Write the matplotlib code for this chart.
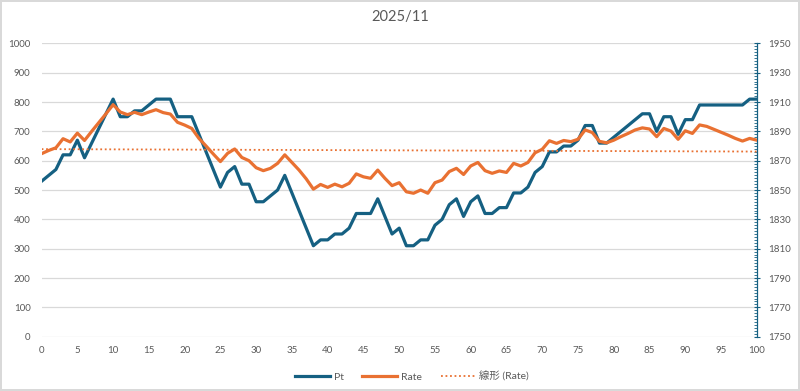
import numpy as np
import matplotlib
matplotlib.use("Agg")
import matplotlib.pyplot as plt
from matplotlib.ticker import MultipleLocator

plt.rcParams['font.family'] = ['Lato', 'Noto Sans CJK JP', 'DejaVu Sans']

# data (x = 0..100)
x = np.arange(101)

pt = [530, 550, 570, 620, 620, 670, 610, 660, 710, 760,
      810, 750, 750, 770, 770, 790, 810, 810, 810, 750,
      750, 750, 690, 630, 570, 510, 560, 580, 520, 520,
      460, 460, 480, 500, 550, 490, 430, 370, 310, 330,
      330, 350, 350, 370, 420, 420, 420, 470, 410, 350,
      370, 310, 310, 330, 330, 380, 400, 450, 470, 410,
      460, 480, 420, 420, 440, 440, 490, 490, 510, 560,
      580, 630, 630, 650, 650, 670, 720, 720, 660, 660,
      680, 700, 720, 740, 760, 760, 700, 750, 750, 690,
      740, 740, 790, 790, 790, 790, 790, 790, 790, 810,
      810]

rate = [1874.8, 1877.0, 1878.8, 1885.0, 1882.8, 1888.8, 1883.8, 1890.0, 1896.0, 1902.0,
        1908.2, 1903.2, 1901.4, 1903.0, 1901.4, 1903.2, 1904.8, 1902.8, 1901.8, 1896.2,
        1894.3, 1892.0, 1885.2, 1880.0, 1874.6, 1869.4, 1875.0, 1878.0, 1872.2, 1870.0,
        1865.2, 1863.2, 1864.8, 1868.2, 1874.0, 1868.8, 1863.6, 1857.6, 1850.6, 1853.8,
        1851.8, 1854.0, 1852.2, 1854.6, 1861.0, 1859.0, 1858.0, 1863.6, 1858.0, 1853.0,
        1855.0, 1848.8, 1847.8, 1850.0, 1847.8, 1855.0, 1856.8, 1862.6, 1864.8, 1860.6,
        1866.4, 1868.8, 1863.2, 1861.4, 1863.0, 1862.0, 1868.2, 1866.4, 1868.8, 1875.4,
        1877.8, 1883.6, 1881.8, 1883.8, 1883.0, 1884.6, 1891.0, 1889.2, 1883.2, 1882.2,
        1884.0, 1886.4, 1888.6, 1891.0, 1892.4, 1891.6, 1886.4, 1892.0, 1890.2, 1884.6,
        1890.4, 1888.6, 1894.4, 1893.4, 1891.4, 1889.4, 1887.4, 1885.2, 1883.4, 1885.2,
        1884.0]

title = "2025/11"
c_pt = "#156082"
c_rate = "#E97132"
grey = "#595959"

# linear trendline of Rate, like Excel's
k, b = np.polyfit(x, rate, 1)
trend = k * x + b

fig = plt.figure(figsize=(8, 3.91), dpi=100)
fig.patch.set_edgecolor("#d9d9d9")
fig.patch.set_linewidth(1.5)
ax = fig.add_axes([0.052, 0.139, 0.894, 0.75])
ax2 = ax.twinx()

l1, = ax.plot(x, pt, color=c_pt, lw=2.3, label="Pt", zorder=3)
l2, = ax2.plot(x, rate, color=c_rate, lw=2.3, label="Rate", zorder=3)
l3, = ax2.plot(x, trend, color=c_rate, lw=1.3, ls=(0, (1, 1.5)), label="線形 (Rate)")

ax.set_xlim(0, 100)
ax.set_ylim(0, 1000)
ax2.set_ylim(1750, 1950)
ax.xaxis.set_major_locator(MultipleLocator(5))
ax.yaxis.set_major_locator(MultipleLocator(100))
ax2.set_yticks(np.arange(1750, 1951, 20))
ax2.set_yticks(np.arange(1750, 1951, 2), minor=True)

ax.grid(axis="y", color="#d9d9d9", lw=0.9)
ax.set_axisbelow(True)
for s in ["top", "left", "bottom", "right"]:
    ax.spines[s].set_visible(False)
for s in ["top", "left", "bottom"]:
    ax2.spines[s].set_visible(False)
ax2.spines["right"].set_color(c_pt)
ax2.spines["right"].set_linewidth(0.9)

ax.tick_params(axis="both", length=0, labelsize=7, labelcolor=grey, pad=8)
ax.tick_params(axis="x", pad=7)
ax2.tick_params(axis="y", which="major", direction="inout", length=5, color=c_pt,
                labelsize=7, labelcolor=grey, pad=6)
ax2.tick_params(axis="y", which="minor", direction="in", length=2.5, color=c_pt)

fig.suptitle(title, y=0.975, fontsize=10.5, color=grey)

fig.legend(handles=[l1, l2, l3], loc="lower center", bbox_to_anchor=(0.515, 0.0),
           ncol=3, frameon=False, fontsize=7.5, labelcolor=grey,
           handlelength=3.3, columnspacing=1.8, handletextpad=0.4)

fig.savefig("out.png", dpi=100)
